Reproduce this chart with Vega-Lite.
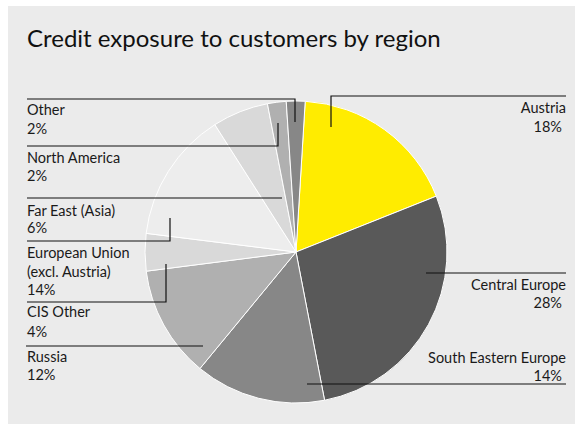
{
  "$schema": "https://vega.github.io/schema/vega-lite/v6.json",
  "width": 558,
  "height": 344,
  "autosize": {"type": "none"},
  "padding": {"left": 17, "top": 80, "right": 0, "bottom": 0},
  "background": "#ffffff",
  "config": {"view": {"stroke": null}, "font": "Lato"},
  "datasets": {
    "frame": [{"x": 8, "x2": 575, "y": 6, "y2": 424}],
    "heading": [{"text": "Credit exposure to customers by region", "x": 27, "y": 47}],
    "slices": [
      {"region": "Austria", "share": 18, "rank": 1},
      {"region": "Central Europe", "share": 28, "rank": 2},
      {"region": "South Eastern Europe", "share": 14, "rank": 3},
      {"region": "Russia", "share": 12, "rank": 4},
      {"region": "CIS Other", "share": 4, "rank": 5},
      {"region": "European Union (excl. Austria)", "share": 14, "rank": 6},
      {"region": "Far East (Asia)", "share": 6, "rank": 7},
      {"region": "North America", "share": 2, "rank": 8},
      {"region": "Other", "share": 2, "rank": 9}
    ],
    "leaders": [
      {"id": "Austria", "seq": 1, "x": 331, "y": 127},
      {"id": "Austria", "seq": 2, "x": 331, "y": 96},
      {"id": "Austria", "seq": 3, "x": 566, "y": 96},
      {"id": "Central Europe", "seq": 1, "x": 426, "y": 273},
      {"id": "Central Europe", "seq": 2, "x": 566, "y": 273},
      {"id": "South Eastern Europe", "seq": 1, "x": 307, "y": 384},
      {"id": "South Eastern Europe", "seq": 2, "x": 566, "y": 384},
      {"id": "Other", "seq": 1, "x": 27, "y": 99},
      {"id": "Other", "seq": 2, "x": 295, "y": 99},
      {"id": "Other", "seq": 3, "x": 295, "y": 122},
      {"id": "North America", "seq": 1, "x": 27, "y": 146},
      {"id": "North America", "seq": 2, "x": 278, "y": 146},
      {"id": "North America", "seq": 3, "x": 278, "y": 123},
      {"id": "Far East (Asia)", "seq": 1, "x": 27, "y": 198},
      {"id": "Far East (Asia)", "seq": 2, "x": 282, "y": 198},
      {"id": "European Union", "seq": 1, "x": 27, "y": 241},
      {"id": "European Union", "seq": 2, "x": 170, "y": 241},
      {"id": "European Union", "seq": 3, "x": 170, "y": 218},
      {"id": "CIS Other", "seq": 1, "x": 27, "y": 302},
      {"id": "CIS Other", "seq": 2, "x": 166, "y": 302},
      {"id": "CIS Other", "seq": 3, "x": 166, "y": 264},
      {"id": "Russia", "seq": 1, "x": 26, "y": 346},
      {"id": "Russia", "seq": 2, "x": 203, "y": 346}
    ],
    "labels": [
      {"text": "Other", "side": "left", "x": 27, "y": 115},
      {"text": "2%", "side": "left", "x": 27, "y": 134},
      {"text": "North America", "side": "left", "x": 27, "y": 162.5},
      {"text": "2%", "side": "left", "x": 27, "y": 181},
      {"text": "Far East (Asia)", "side": "left", "x": 27, "y": 216},
      {"text": "6%", "side": "left", "x": 27, "y": 233},
      {"text": "European Union", "side": "left", "x": 27, "y": 258},
      {"text": "(excl. Austria)", "side": "left", "x": 27, "y": 277},
      {"text": "14%", "side": "left", "x": 27, "y": 295},
      {"text": "CIS Other", "side": "left", "x": 27, "y": 317},
      {"text": "4%", "side": "left", "x": 27, "y": 337},
      {"text": "Russia", "side": "left", "x": 27, "y": 362},
      {"text": "12%", "side": "left", "x": 27, "y": 380},
      {"text": "Austria", "side": "right", "x": 566, "y": 113},
      {"text": "18%", "side": "right", "x": 562, "y": 132},
      {"text": "Central Europe", "side": "right", "x": 566, "y": 290},
      {"text": "28%", "side": "right", "x": 562, "y": 308},
      {"text": "South Eastern Europe", "side": "right", "x": 566, "y": 363},
      {"text": "14%", "side": "right", "x": 562, "y": 381}
    ]
  },
  "layer": [
    {
      "data": {"name": "frame"},
      "mark": {"type": "rect", "color": "#ebebeb"},
      "encoding": {
        "x": {"field": "x", "type": "quantitative", "scale": {"domain": [17, 575], "nice": false, "zero": false}, "axis": null},
        "x2": {"field": "x2"},
        "y": {"field": "y", "type": "quantitative", "scale": {"domain": [80, 424], "reverse": true, "nice": false, "zero": false}, "axis": null},
        "y2": {"field": "y2"}
      }
    },
    {
      "data": {"name": "slices"},
      "mark": {"type": "arc", "outerRadius": 151, "stroke": "#ffffff", "strokeWidth": 1},
      "encoding": {
        "theta": {"field": "share", "type": "quantitative", "stack": true, "scale": {"range": [0.061, 6.3442]}},
        "color": {
          "field": "region", "type": "nominal", "legend": null,
          "scale": {
            "domain": ["Austria", "Central Europe", "South Eastern Europe", "Russia", "CIS Other", "European Union (excl. Austria)", "Far East (Asia)", "North America", "Other"],
            "range": ["#ffec00", "#595959", "#878787", "#b0b0b0", "#d9d9d9", "#ededed", "#d9d9d9", "#b0b0b0", "#878787"]
          }
        },
        "order": {"field": "rank", "type": "quantitative"}
      }
    },
    {
      "data": {"name": "leaders"},
      "mark": {"type": "line", "color": "#111111", "strokeWidth": 1.2, "interpolate": "linear"},
      "encoding": {
        "x": {"field": "x", "type": "quantitative"},
        "y": {"field": "y", "type": "quantitative"},
        "detail": {"field": "id", "type": "nominal"},
        "order": {"field": "seq", "type": "quantitative"}
      }
    },
    {
      "data": {"name": "labels"},
      "transform": [{"filter": "datum.side === 'left'"}],
      "mark": {"type": "text", "align": "left", "baseline": "alphabetic", "fontSize": 14.5, "color": "#1a1a1a"},
      "encoding": {
        "x": {"field": "x", "type": "quantitative"},
        "y": {"field": "y", "type": "quantitative"},
        "text": {"field": "text", "type": "nominal"}
      }
    },
    {
      "data": {"name": "labels"},
      "transform": [{"filter": "datum.side === 'right'"}],
      "mark": {"type": "text", "align": "right", "baseline": "alphabetic", "fontSize": 14.5, "color": "#1a1a1a"},
      "encoding": {
        "x": {"field": "x", "type": "quantitative"},
        "y": {"field": "y", "type": "quantitative"},
        "text": {"field": "text", "type": "nominal"}
      }
    },
    {
      "data": {"name": "heading"},
      "mark": {"type": "text", "align": "left", "baseline": "alphabetic", "fontSize": 24, "color": "#111111"},
      "encoding": {
        "x": {"field": "x", "type": "quantitative"},
        "y": {"field": "y", "type": "quantitative"},
        "text": {"field": "text", "type": "nominal"}
      }
    }
  ]
}
